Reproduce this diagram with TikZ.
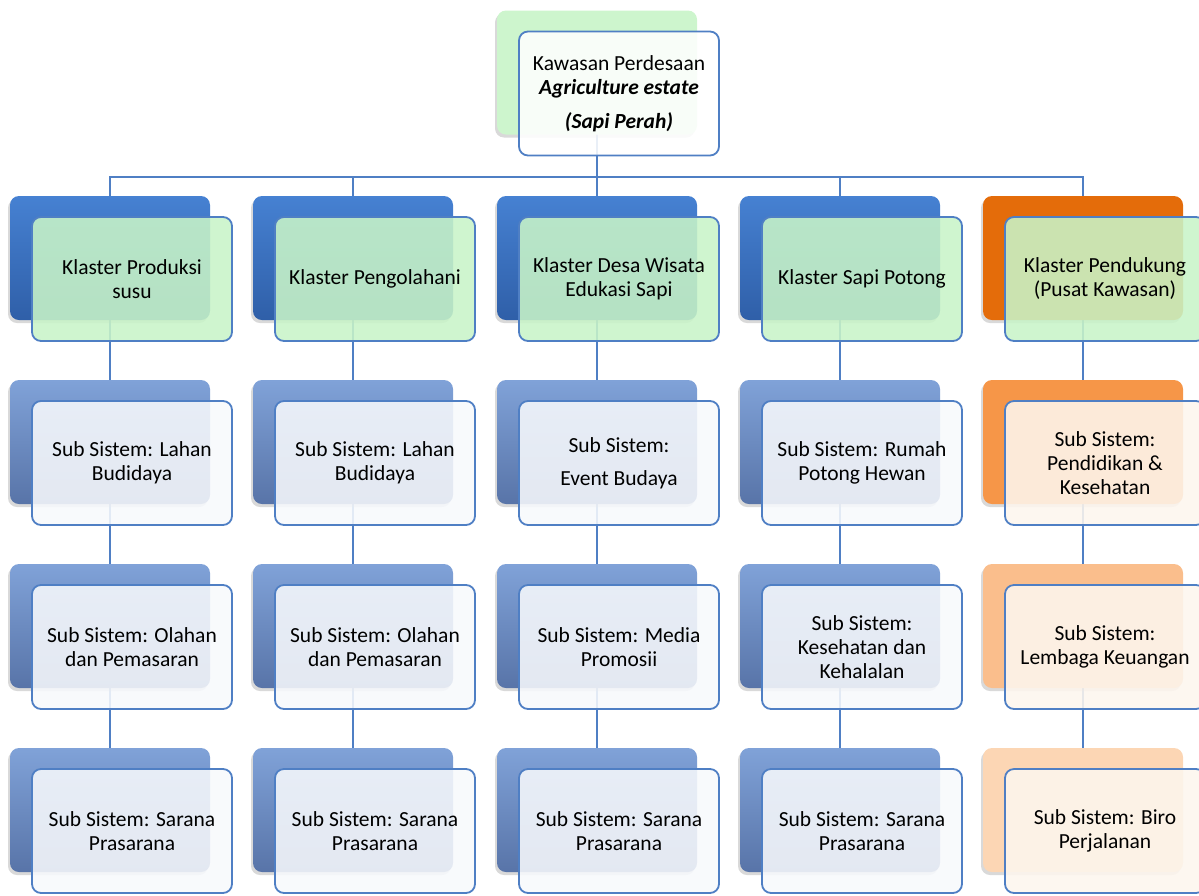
\documentclass[tikz,border=0pt]{standalone}
\usepackage{fontspec}
\setmainfont{Carlito}
\usetikzlibrary{positioning,shadows,backgrounds}
\definecolor{linkblue}{RGB}{79,127,196}
\definecolor{hdrtop}{RGB}{70,129,210}
\definecolor{hdrbot}{RGB}{47,95,168}
\definecolor{subtop}{RGB}{128,162,216}
\definecolor{subbot}{RGB}{88,116,168}
\definecolor{leafgreen}{RGB}{200,244,200}
\definecolor{subfill}{RGB}{247,249,252}
\definecolor{orgfill}{RGB}{253,246,238}
\definecolor{org1}{RGB}{228,108,10}
\definecolor{org2}{RGB}{246,150,72}
\definecolor{org3}{RGB}{250,190,140}
\definecolor{org4}{RGB}{252,214,180}
\tikzset{backbox/.style={rounded corners=9pt,minimum width=200pt,minimum height=124pt,inner sep=0pt,
           drop shadow={opacity=0.3,shadow xshift=-2pt,shadow yshift=-3pt}},
         frontbox/.style={draw=linkblue,line width=1.8pt,rounded corners=9pt,minimum width=200pt,
           minimum height=124pt,inner sep=0pt,align=center,fill opacity=0.88,text opacity=1,
           font=\fontsize{21.5}{24}\selectfont},
         link/.style={draw=linkblue,line width=1.8pt}
}

\begin{document}
\begin{tikzpicture}[x=1pt,y=1pt,yscale=-1,xscale=1]
\useasboundingbox (0,0) rectangle (1199,895);

%Top: back box
\node[backbox,fill=leafgreen!90!white] (btop) at (597,72.5) {};
%Klaster row and sub rows: back boxes
\foreach \c/\x in {1/110,2/353,3/597,4/840}{
  \node[backbox,top color=hdrtop,bottom color=hdrbot] (b\c1) at (\x,258) {};
  \foreach \r/\y in {2/442,3/626,4/810}
    \node[backbox,top color=subtop,bottom color=subbot] (b\c\r) at (\x,\y) {};
}
\foreach \r/\y in {1/258,2/442,3/626,4/810}
  \node[backbox,fill=org\r] (b5\r) at (1083,\y) {};

%Connectors
\coordinate (bar) at (597,177);
\begin{scope}[on background layer]
\foreach \c in {1,...,5}{
  \draw[link] (btop.center) |- (bar -| b\c1.center) -- (b\c1.center);
  \draw[link] (b\c1.center) -- (b\c2.center) -- (b\c3.center) -- (b\c4.center);
}
\end{scope}

%Top: front box
\node[frontbox,fill=white] (ftop) at ([shift={(22,21)}]btop.center)
  {Kawasan Perdesaan\\\textbf{\textit{Agriculture estate}}\\[10pt]\textbf{\textit{(Sapi Perah)}}};

%Klaster row
\node[frontbox,fill=leafgreen] (f11) at ([shift={(22,21)}]b11.center) {Klaster Produksi\\susu};
\node[frontbox,fill=leafgreen] (f21) at ([shift={(22,21)}]b21.center) {Klaster Pengolahani};
\node[frontbox,fill=leafgreen] (f31) at ([shift={(22,21)}]b31.center) {Klaster Desa Wisata\\Edukasi Sapi};
\node[frontbox,fill=leafgreen] (f41) at ([shift={(22,21)}]b41.center) {Klaster Sapi Potong};
\node[frontbox,fill=leafgreen] (f51) at ([shift={(22,21)}]b51.center) {Klaster Pendukung\\(Pusat Kawasan)};

%Sub Sistem row 2
\node[frontbox,fill=subfill] (f12) at ([shift={(22,21)}]b12.center) {Sub Sistem: Lahan\\Budidaya};
\node[frontbox,fill=subfill] (f22) at ([shift={(22,21)}]b22.center) {Sub Sistem: Lahan\\Budidaya};
\node[frontbox,fill=subfill] (f32) at ([shift={(22,21)}]b32.center) {Sub Sistem:\\[9pt]Event Budaya};
\node[frontbox,fill=subfill] (f42) at ([shift={(22,21)}]b42.center) {Sub Sistem: Rumah\\Potong Hewan};
\node[frontbox,fill=orgfill] (f52) at ([shift={(22,21)}]b52.center) {Sub Sistem:\\Pendidikan \&\\Kesehatan};

%Sub Sistem row 3
\node[frontbox,fill=subfill] (f13) at ([shift={(22,21)}]b13.center) {Sub Sistem: Olahan\\dan Pemasaran};
\node[frontbox,fill=subfill] (f23) at ([shift={(22,21)}]b23.center) {Sub Sistem: Olahan\\dan Pemasaran};
\node[frontbox,fill=subfill] (f33) at ([shift={(22,21)}]b33.center) {Sub Sistem: Media\\Promosii};
\node[frontbox,fill=subfill] (f43) at ([shift={(22,21)}]b43.center) {Sub Sistem:\\Kesehatan dan\\Kehalalan};
\node[frontbox,fill=orgfill] (f53) at ([shift={(22,21)}]b53.center) {Sub Sistem:\\Lembaga Keuangan};

%Sub Sistem row 4
\node[frontbox,fill=subfill] (f14) at ([shift={(22,21)}]b14.center) {Sub Sistem: Sarana\\Prasarana};
\node[frontbox,fill=subfill] (f24) at ([shift={(22,21)}]b24.center) {Sub Sistem: Sarana\\Prasarana};
\node[frontbox,fill=subfill] (f34) at ([shift={(22,21)}]b34.center) {Sub Sistem: Sarana\\Prasarana};
\node[frontbox,fill=subfill] (f44) at ([shift={(22,21)}]b44.center) {Sub Sistem: Sarana\\Prasarana};
\node[frontbox,fill=orgfill] (f54) at ([shift={(22,21)}]b54.center) {Sub Sistem: Biro\\Perjalanan};

\end{tikzpicture}
\end{document}
